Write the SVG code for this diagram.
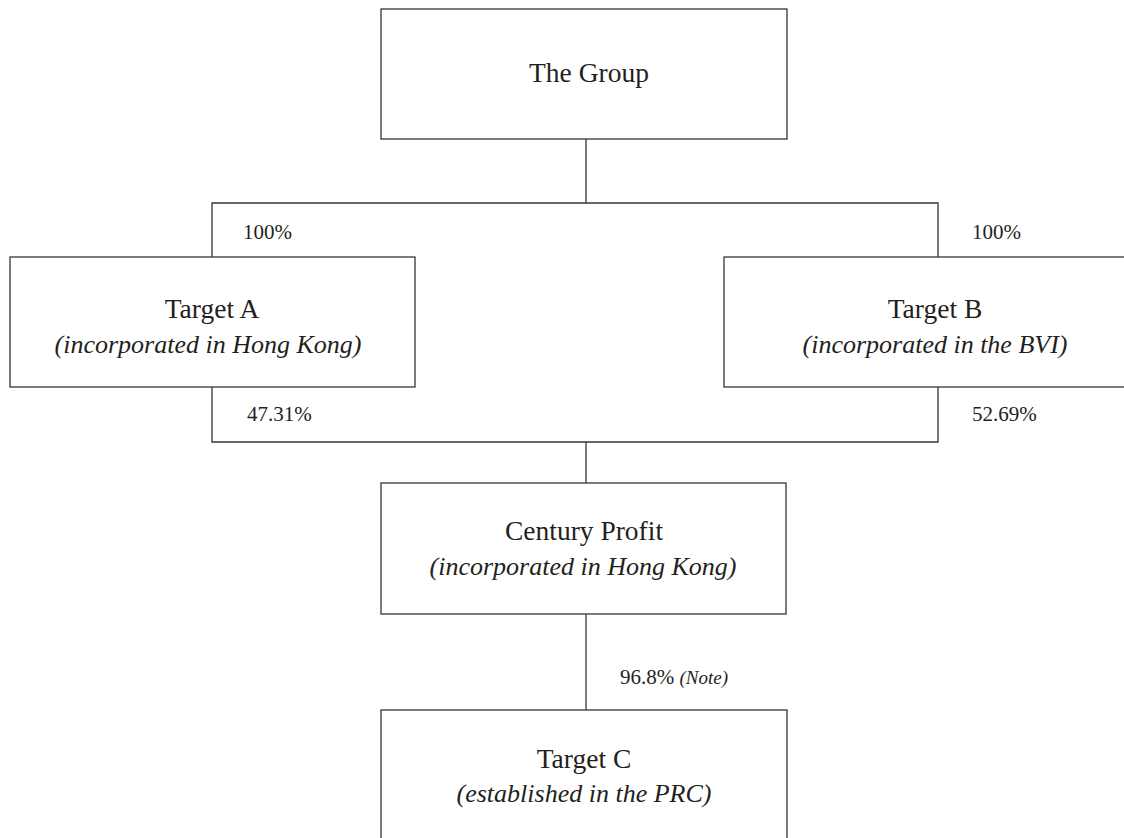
<svg xmlns="http://www.w3.org/2000/svg" width="1124" height="838" viewBox="0 0 1124 838">
<style>
.box{fill:#fff;stroke:#3a3536;stroke-width:1.3}
.ln{fill:none;stroke:#3a3536;stroke-width:1.3}
.t{font-family:"Liberation Serif","Times New Roman",serif;font-size:27.5px;fill:#231f20;text-anchor:middle}
.i{font-style:italic;font-size:26px}
.p{font-family:"Liberation Serif","Times New Roman",serif;font-size:21px;fill:#231f20}
</style>
<rect width="1124" height="838" fill="#fff"/>
<g id="connectors">
<path class="ln" d="M586,139 V203 M212,257 V203 H938 V257"/>
<path class="ln" d="M212,387 V442 H938 V387 M586,442 V483"/>
<path class="ln" d="M586,614 V710"/>
<text class="p" x="243" y="239">100%</text>
<text class="p" x="972" y="239">100%</text>
<text class="p" x="247" y="421">47.31%</text>
<text class="p" x="972" y="421">52.69%</text>
<text class="p" x="620" y="684">96.8% <tspan font-style="italic" font-size="19">(Note)</tspan></text>
</g>
<g id="group">
<rect class="box" x="381" y="9" width="406" height="130"/>
<text class="t" x="589" y="82">The Group</text>
</g>
<g id="targetA">
<rect class="box" x="10" y="257" width="405" height="130"/>
<text class="t" x="212" y="318">Target A</text>
<text class="t i" x="208" y="353">(incorporated in Hong Kong)</text>
</g>
<g id="targetB">
<rect class="box" x="724" y="257" width="406" height="130"/>
<text class="t" x="935" y="318">Target B</text>
<text class="t i" x="935" y="353">(incorporated in the BVI)</text>
</g>
<g id="century">
<rect class="box" x="381" y="483" width="405" height="131"/>
<text class="t" x="584" y="540">Century Profit</text>
<text class="t i" x="583" y="575">(incorporated in Hong Kong)</text>
</g>
<g id="targetC">
<rect class="box" x="381" y="710" width="406" height="140"/>
<text class="t" x="584" y="768">Target C</text>
<text class="t i" x="584" y="802">(established in the PRC)</text>
</g>
</svg>
